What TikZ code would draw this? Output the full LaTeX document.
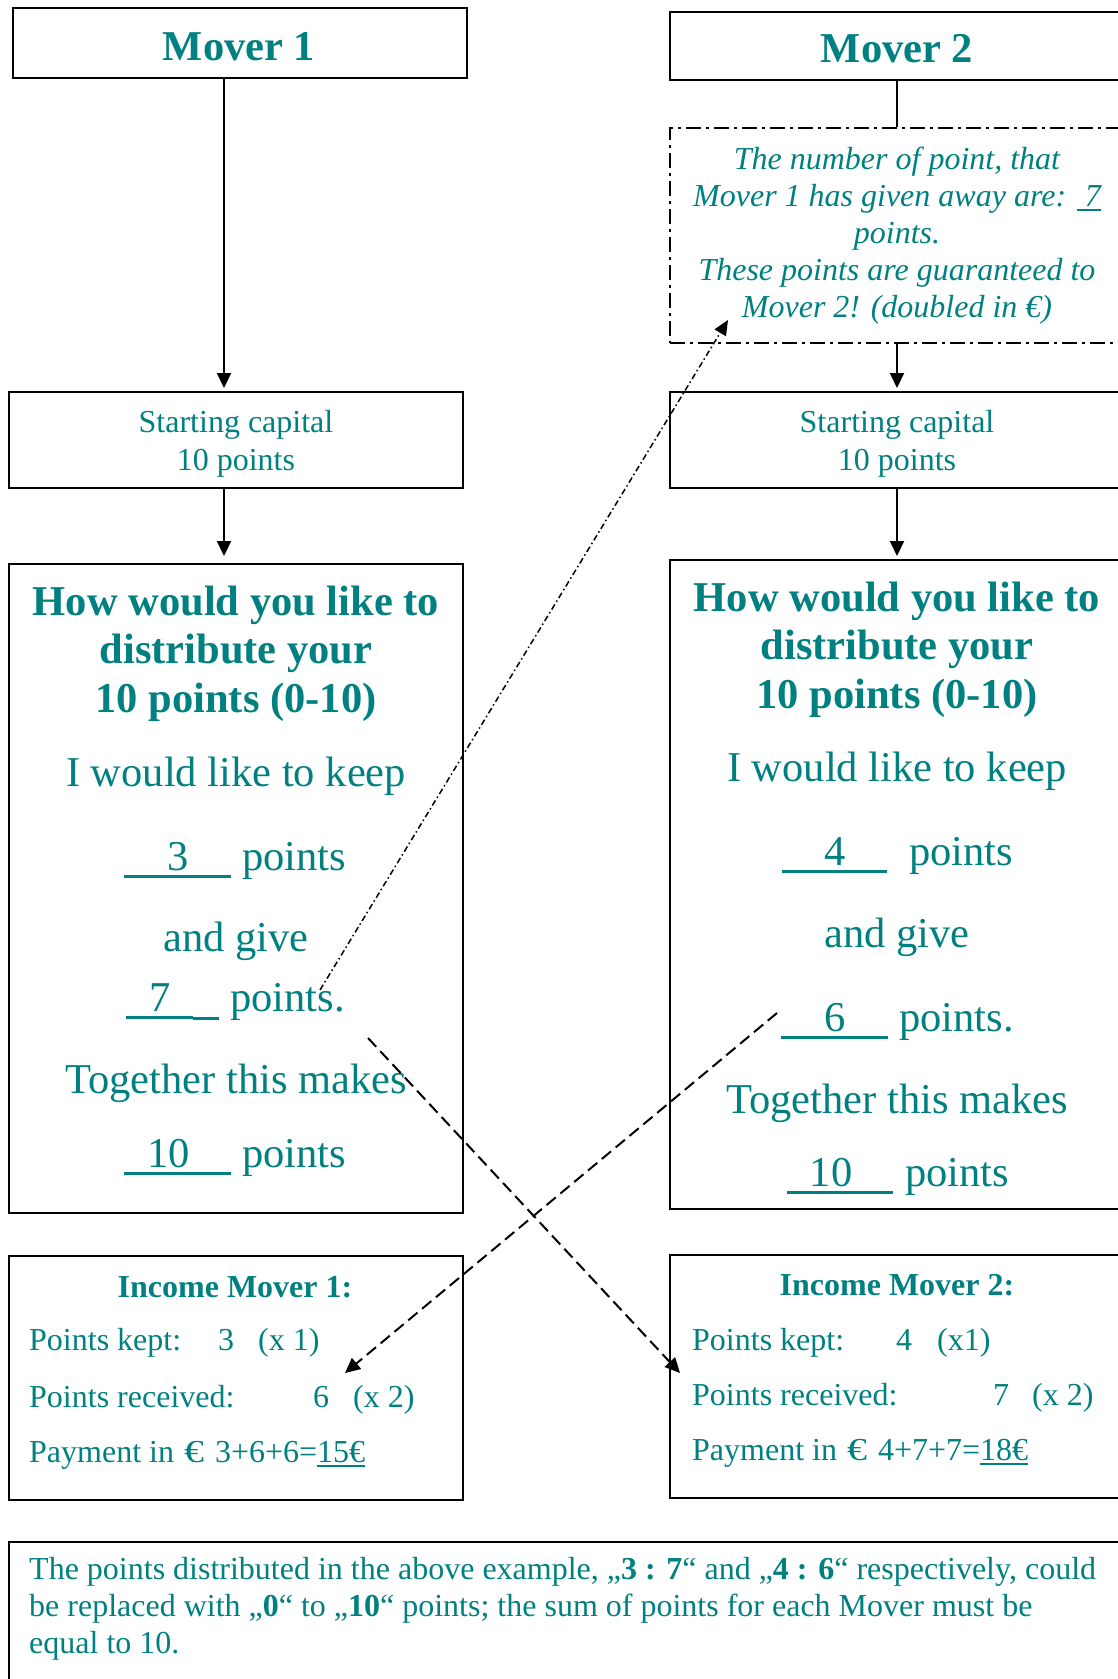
\documentclass[tikz,border=0pt]{standalone}
\usepackage{fontspec}
\setmainfont{Liberation Serif}
\usetikzlibrary{positioning,arrows.meta}

\definecolor{moverteal}{RGB}{0,128,128}
\newcommand{\bigtext}{\fontsize{42.5pt}{48.5pt}\selectfont}
\newcommand{\midtext}{\fontsize{32pt}{37pt}\selectfont}
\newcommand{\fillin}[2]{\rlap{\rule[-8pt]{#1}{3pt}}\makebox[#1][c]{#2}}
\newcommand{\ulbox}[1]{\setbox0\hbox{#1}\rlap{\rule[-5pt]{\wd0}{2pt}}\box0}
\newcommand{\payeuro}{\hspace{10pt}\scalebox{1.25}[1]{€}\hspace{11pt}}

\begin{document}
\begin{tikzpicture}[x=1pt,y=-1pt,
    frame/.style={draw, line width=2pt, minimum width=454pt, inner sep=0pt},
    txt/.style={text=moverteal, font=\midtext, inner sep=0pt, anchor=base},
    bigtxt/.style={txt, font=\bigtext},
    arr/.style={-{Triangle[length=15pt,width=14pt]}, line width=2pt},
    dasharr/.style={arr, dash pattern=on 12pt off 6pt},
    dotarr/.style={-{Triangle[length=15pt,width=13pt]}, line width=1.5pt, dash pattern=on 6pt off 3pt on 1.5pt off 3pt}]
    \useasboundingbox (0,0) rectangle (1118,1679);
    \clip (0,0) rectangle (1118,1679);

    % Mover 1
    \node[frame, minimum height=70pt] (mover1) at (240,43) {};
    \node[frame, minimum height=96pt] (start1) at (236,440) {};
    \node[frame, minimum height=649pt] (dist1) at (236,888.5) {};
    \node[frame, minimum height=244pt] (income1) at (236,1378) {};

    % Mover 2
    \node[frame, minimum height=68pt] (mover2) at (897,46) {};
    \node[frame, minimum height=215pt, dash pattern=on 15pt off 5pt on 3pt off 5pt] (given) at (897,235.5) {};
    \node[frame, minimum height=96pt] (start2) at (897,440) {};
    \node[frame, minimum height=649pt] (dist2) at (897,884.5) {};
    \node[frame, minimum height=243pt] (income2) at (897,1376.5) {};

    \node[frame, minimum width=1121pt, minimum height=158pt] (remark) at (569.5,1621) {};

    % texts (multi-line nodes sit on their last baseline)
    \node[bigtxt, font=\bigtext\bfseries] (title1) at (239,60) {Mover 1};
    \node[bigtxt, font=\bigtext\bfseries] (title2) at (897,62) {Mover 2};
    \node[txt, align=center, font=\midtext\itshape] (giventext) at (897,317)
        {The number of point, that\\Mover 1 has given away are: \ulbox{\ 7}\\points.\\These points are guaranteed to\\Mover 2! (doubled in €)};
    \node[txt, align=center] (capital1) at (236,470) {Starting capital\\[1pt]10 points};
    \node[txt, align=center] (capital2) at (897,470) {Starting capital\\[1pt]10 points};

    \node[bigtxt, align=center, font=\bigtext\bfseries] (ask1) at (236,712) {How would you like to\\distribute your\\10 points (0-10)};
    \node[bigtxt] (keep1) at (236,786) {I would like to keep};
    \node[bigtxt, anchor=base west] (kept1) at (124,870) {\fillin{107pt}{3}\hspace{11pt}points};
    \node[bigtxt] (give1) at (236,951) {and give};
    \node[bigtxt, anchor=base west] (gave1) at (126,1011) {\fillin{67pt}{7}\rule[-9pt]{26pt}{3.5pt}\hspace{11pt}points.};
    \node[bigtxt] (sum1) at (236,1093) {Together this makes};
    \node[bigtxt, anchor=base west] (total1) at (124,1167) {\fillin{107pt}{10\hspace{18pt}}\hspace{11pt}points};

    \node[bigtxt, align=center, font=\bigtext\bfseries] (ask2) at (897,708) {How would you like to\\distribute your\\10 points (0-10)};
    \node[bigtxt] (keep2) at (897,781) {I would like to keep};
    \node[bigtxt, anchor=base west] (kept2) at (782,865) {\fillin{105pt}{4}\hspace{22pt}points};
    \node[bigtxt] (give2) at (897,947) {and give};
    \node[bigtxt, anchor=base west] (gave2) at (781,1031) {\fillin{107pt}{6}\hspace{11pt}points.};
    \node[bigtxt] (sum2) at (897,1113) {Together this makes};
    \node[bigtxt, anchor=base west] (total2) at (787,1186) {\fillin{106pt}{10\hspace{18pt}}\hspace{12pt}points};

    \node[txt, font=\midtext\bfseries] (inctitle1) at (235,1297) {Income Mover 1:};
    \node[txt, anchor=base west] (inckept1) at (29,1350) {\makebox[189pt][l]{Points kept:}\makebox[40pt][l]{3}(x 1)};
    \node[txt, anchor=base west] (increc1) at (29,1407) {\makebox[284pt][l]{Points received:}\makebox[40pt][l]{6}(x 2)};
    \node[txt, anchor=base west] (incpay1) at (29,1462) {Payment in\payeuro 3+6+6=\ulbox{15€}};

    \node[txt, font=\midtext\bfseries] (inctitle2) at (897,1295) {Income Mover 2:};
    \node[txt, anchor=base west] (inckept2) at (692,1350) {\makebox[204pt][l]{Points kept:}\makebox[41pt][l]{4}(x1)};
    \node[txt, anchor=base west] (increc2) at (692,1405) {\makebox[301pt][l]{Points received:}\makebox[39pt][l]{7}(x 2)};
    \node[txt, anchor=base west] (incpay2) at (692,1460) {Payment in\payeuro 4+7+7=\ulbox{18€}};

    \node[txt, anchor=base west, align=left] (remarktext) at (29,1653)
        {The points distributed in the above example, „\textbf{3 : 7}“ and „\textbf{4 : 6}“ respectively, could\\be replaced with „\textbf{0}“ to „\textbf{10}“ points; the sum of points for each Mover must be\\equal to 10.};

    % flow
    \draw[arr, shorten >=3pt] ([xshift=-16pt]mover1.south) -- ([xshift=-12pt]start1.north);
    \draw[arr, shorten >=7pt] ([xshift=-12pt]start1.south) -- ([xshift=-12pt]dist1.north);
    \draw[line width=2pt] (mover2) -- (given);
    \draw[arr, shorten >=3pt] (given) -- (start2);
    \draw[arr, shorten >=3pt] (start2) -- (dist2);

    % exchange of points
    \coordinate (gavefrom) at (320,990);
    \coordinate (giventip) at (728,320);
    \coordinate (recfrom1) at (368,1038);
    \coordinate (rectip2) at (680,1373);
    \coordinate (recfrom2) at (777,1013);
    \coordinate (rectip1) at (345,1373);
    \draw[dotarr] (gavefrom) -- (giventip);
    \draw[dasharr] (recfrom1) -- (rectip2);
    \draw[dasharr] (recfrom2) -- (rectip1);
\end{tikzpicture}
\end{document}
